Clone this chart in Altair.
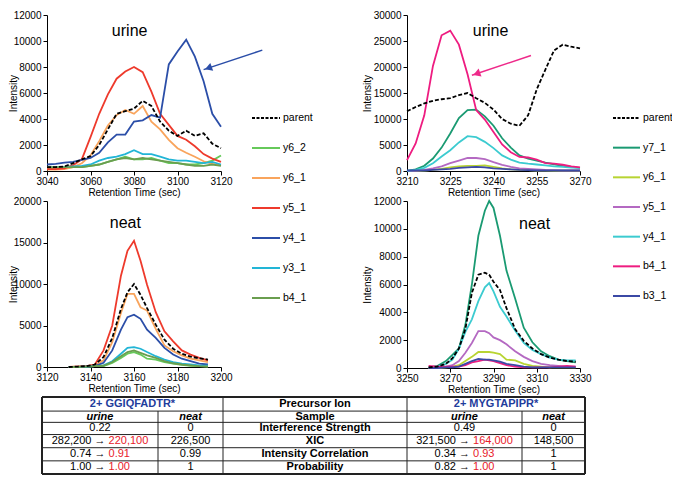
import altair as alt
import pandas as pd

# ------------------------------------------------------------------ data
GG_SERIES = ["parent", "y6_2", "y6_1", "y5_1", "y4_1", "y3_1", "b4_1"]
GG_COLORS = ["#000000", "#66c95a", "#f9a45c", "#ee3a2c", "#2b4ea8", "#22b5d6", "#6a9e4f"]
MY_SERIES = ["parent", "y7_1", "y6_1", "y5_1", "y4_1", "b4_1", "b3_1"]
MY_COLORS = ["#000000", "#1a9a72", "#b8d432", "#b469c2", "#3ccbd0", "#ee1c80", "#3b49a5"]

gg_urine_time = [3040, 3044, 3048, 3052, 3056, 3060, 3064, 3068, 3072, 3076, 3080,
                 3084, 3088, 3092, 3096, 3100, 3104, 3108, 3112, 3116, 3120]
gg_urine = {
    "parent": [300, 300, 350, 600, 900, 1150, 2000, 3200, 4400, 4600, 4800, 5400, 5000, 3800, 3100, 2700, 3100, 2700, 2900, 2100, 1750],
    "y6_2": [200, 200, 250, 300, 300, 400, 500, 700, 900, 1100, 900, 900, 1000, 800, 600, 600, 500, 500, 600, 800, 1200],
    "y6_1": [100, 100, 150, 300, 600, 1200, 2300, 3500, 4300, 4700, 4400, 5000, 3800, 3200, 2400, 1750, 1400, 1100, 750, 550, 450],
    "y5_1": [150, 150, 200, 450, 900, 2600, 4400, 5900, 7100, 7650, 8000, 7600, 6100, 4400, 3550, 2700, 2400, 1900, 1300, 950, 700],
    "y4_1": [500, 550, 650, 700, 850, 1000, 1400, 2200, 2800, 2800, 3800, 3900, 4300, 4100, 8200, 9200, 10100, 8800, 6900, 4400, 3400],
    "y3_1": [300, 300, 300, 350, 400, 500, 800, 1000, 1100, 1300, 1600, 1300, 1300, 1100, 900, 800, 800, 700, 600, 700, 500],
    "b4_1": [300, 300, 300, 300, 300, 400, 500, 700, 900, 1000, 900, 1000, 900, 800, 700, 600, 500, 400, 400, 500, 400],
}

gg_neat_time = [3130, 3134, 3138, 3142, 3146, 3150, 3154, 3157, 3160, 3163, 3166,
                3170, 3174, 3178, 3182, 3186, 3190, 3194]
gg_neat = {
    "parent": [0, 50, 100, 300, 1200, 3500, 7000, 9000, 10000, 8700, 7100, 5100, 3300, 2200, 1600, 1250, 1050, 900],
    "y6_2": [0, 0, 50, 100, 100, 500, 1100, 1600, 1800, 1500, 1000, 900, 600, 400, 250, 150, 100, 50],
    "y6_1": [0, 50, 100, 200, 800, 3000, 6500, 8800, 8800, 7200, 6800, 4600, 2600, 1900, 1400, 1000, 800, 600],
    "y5_1": [0, 50, 100, 300, 2000, 5000, 11000, 14000, 15200, 12800, 9900, 6600, 4300, 3100, 2000, 1500, 1100, 800],
    "y4_1": [0, 0, 50, 100, 500, 2000, 4500, 6000, 6300, 5800, 4500, 3500, 2300, 1500, 1000, 700, 400, 300],
    "y3_1": [0, 0, 50, 100, 200, 700, 1600, 2300, 2400, 2200, 1800, 1300, 900, 600, 400, 300, 200, 150],
    "b4_1": [0, 0, 50, 100, 150, 600, 1300, 1800, 2000, 1700, 1400, 1100, 700, 450, 300, 200, 100, 60],
}

my_urine_time = [3210, 3213, 3216, 3219, 3222, 3225, 3228, 3231, 3234, 3237, 3240,
                 3243, 3246, 3249, 3252, 3255, 3258, 3261, 3264, 3267, 3270]
my_urine = {
    "parent": [11500, 12300, 13000, 13500, 13800, 14000, 14600, 15000, 14000, 13100, 11800, 10000, 9100, 8700, 10700, 15700, 19500, 23200, 24300, 23900, 23600],
    "y7_1": [0, 300, 1000, 2400, 4500, 7200, 10200, 11700, 11800, 10500, 8700, 6300, 4500, 3000, 2400, 2000, 1600, 1300, 1000, 800, 600],
    "y6_1": [0, 0, 100, 200, 400, 700, 900, 1000, 1000, 1100, 800, 500, 300, 200, 150, 100, 100, 50, 50, 50, 50],
    "y5_1": [0, 50, 200, 500, 900, 1500, 2000, 2500, 2500, 2300, 1700, 1200, 800, 500, 400, 300, 200, 150, 100, 100, 100],
    "y4_1": [0, 200, 600, 1500, 2800, 4000, 5500, 6700, 6500, 5600, 4400, 3000, 2200, 1600, 1400, 1250, 1100, 900, 800, 650, 600],
    "b4_1": [2100, 5300, 10700, 20200, 26100, 27000, 24300, 18600, 11700, 9900, 7500, 5100, 3600, 2700, 2600, 2200, 1500, 1400, 1200, 900, 700],
    "b3_1": [100, 100, 100, 200, 300, 400, 600, 700, 800, 700, 500, 400, 300, 200, 150, 100, 100, 100, 100, 100, 100],
}

my_neat_time = [3260, 3264, 3268, 3271, 3274, 3277, 3280, 3283, 3286, 3288, 3290,
                3293, 3296, 3300, 3304, 3308, 3312, 3316, 3320, 3324, 3328]
my_neat = {
    "parent": [50, 100, 300, 700, 1400, 2800, 5400, 6700, 6850, 6700, 6200, 5600, 4300, 2800, 1950, 1400, 1000, 750, 600, 500, 450],
    "y7_1": [50, 150, 500, 950, 1400, 3100, 6000, 9500, 11300, 12000, 11500, 9500, 7000, 5000, 2900, 1850, 1200, 850, 600, 500, 400],
    "y6_1": [0, 0, 50, 100, 200, 500, 800, 1150, 1150, 1150, 1100, 1000, 600, 550, 300, 150, 100, 50, 50, 50, 50],
    "y5_1": [0, 0, 100, 200, 500, 1100, 1800, 2650, 2650, 2500, 2200, 2000, 1700, 1200, 800, 500, 300, 200, 150, 100, 100],
    "y4_1": [50, 100, 300, 600, 1400, 2600, 3500, 4800, 5800, 6100, 5500, 4400, 3700, 2700, 1800, 1300, 1000, 750, 600, 550, 550],
    "b4_1": [150, 100, 100, 100, 100, 200, 400, 500, 600, 550, 500, 350, 200, 100, 50, 50, 50, 50, 100, 150, 100],
    "b3_1": [0, 0, 50, 50, 100, 300, 500, 650, 600, 600, 550, 450, 300, 200, 100, 50, 50, 50, 50, 50, 50],
}

gg_urine_xticks = [3040, 3060, 3080, 3100, 3120]
gg_neat_xticks = [3120, 3140, 3160, 3180, 3200]
my_urine_xticks = [3210, 3225, 3240, 3255, 3270]
my_neat_xticks = [3250, 3270, 3290, 3310, 3330]
gg_urine_yticks = [0, 2000, 4000, 6000, 8000, 10000, 12000]
gg_neat_yticks = [0, 5000, 10000, 15000, 20000]
my_urine_yticks = [0, 5000, 10000, 15000, 20000, 25000, 30000]
my_neat_yticks = [0, 2000, 4000, 6000, 8000, 10000, 12000]

panel_labels = ["urine", "neat", "urine", "neat"]
label_time = [3078, 3156, 3239, 3309]
label_intensity = [10800, 17300, 26900, 10350]

arrow_tail_time = [3139, 3253]
arrow_tail_int = [9300, 22200]
arrow_tip_time = [3112, 3232.5]
arrow_tip_int = [7800, 18400]
arrow_angle = [250, 250]
arrow_colors = ["#2b4ea8", "#ee2a8a"]

table_head = ["2+ GGIQFADTR*", "Precursor Ion", "2+ MYGTAPIPR*"]
table_sub = ["urine", "neat", "Sample", "urine", "neat"]
table_metric = ["Interference Strength", "XIC", "Intensity Correlation", "Probability"]
gg_urine_vals = ["0.22", "282,200 → 220,100", "0.74 → 0.91", "1.00 → 1.00"]
gg_neat_vals = ["0", "226,500", "0.99", "1"]
my_urine_vals = ["0.49", "321,500 → 164,000", "0.34 → 0.93", "0.82 → 1.00"]
my_neat_vals = ["0", "148,500", "1", "1"]

# ------------------------------------------------------------------ layout / style
W, H = 664, 468
FONT = "Liberation Sans, Arial, Helvetica, sans-serif"
BLUE_HEAD = "#1f3d9c"
RED = "#e8202a"


def P(v):
    """reference page pixel -> plot pixel (page has an 8px margin)"""
    return v - 8


AX = dict(format="d", grid=False, tickSize=4, tickColor="black", tickWidth=1,
          domainColor="black", domainWidth=1, labelColor="black", titleColor="black",
          labelFont=FONT, titleFont=FONT, labelFontSize=10, titleFontSize=10,
          titleFontWeight="normal", labelOverlap=False)

PANELS = [
    dict(time=gg_urine_time, data=gg_urine, names=GG_SERIES, colors=GG_COLORS,
         xdom=[3040, 3120], ydom=[0, 12000], xr=[47, 221], yr=[171, 15],
         xticks=gg_urine_xticks, yticks=gg_urine_yticks, fixed_title=True, arrow=0),
    dict(time=gg_neat_time, data=gg_neat, names=GG_SERIES, colors=GG_COLORS,
         xdom=[3120, 3200], ydom=[0, 20000], xr=[47, 221], yr=[367, 201],
         xticks=gg_neat_xticks, yticks=gg_neat_yticks, fixed_title=True, arrow=None),
    dict(time=my_urine_time, data=my_urine, names=MY_SERIES, colors=MY_COLORS,
         xdom=[3210, 3270], ydom=[0, 30000], xr=[407, 580], yr=[171, 15],
         xticks=my_urine_xticks, yticks=my_urine_yticks, fixed_title=False, arrow=1),
    dict(time=my_neat_time, data=my_neat, names=MY_SERIES, colors=MY_COLORS,
         xdom=[3250, 3330], ydom=[0, 12000], xr=[407, 580], yr=[368, 201],
         xticks=my_neat_xticks, yticks=my_neat_yticks, fixed_title=False, arrow=None),
]


def make_panel(i, cfg):
    xs = alt.Scale(domain=cfg["xdom"], range=[P(cfg["xr"][0]), P(cfg["xr"][1])], nice=False, zero=False)
    ys = alt.Scale(domain=cfg["ydom"], range=[P(cfg["yr"][0]), P(cfg["yr"][1])], nice=False, zero=False)
    xaxis = alt.Axis(orient="bottom", offset=P(cfg["yr"][0]) - H, values=cfg["xticks"],
                     title="Retention Time (sec)", labelFlush=False, labelPadding=1,
                     titlePadding=1, **AX)
    extra = {}
    if cfg["fixed_title"]:
        extra = dict(titleX=10 - P(cfg["xr"][0]),
                     titleY=P((cfg["yr"][0] + cfg["yr"][1]) / 2),
                     titleAngle=270, titleBaseline="bottom", titleAlign="center")
    yaxis = alt.Axis(orient="left", offset=-P(cfg["xr"][0]), values=cfg["yticks"],
                     title="Intensity", labelPadding=2, titlePadding=1, **extra, **AX)

    def enc_x(field="t"):
        return alt.X(f"{field}:Q", scale=xs, axis=xaxis)

    def enc_y(field="v"):
        return alt.Y(f"{field}:Q", scale=ys, axis=yaxis)

    rows = []
    for name, color in zip(cfg["names"], cfg["colors"]):
        for t, v in zip(cfg["time"], cfg["data"][name]):
            rows.append(dict(series=name, t=t, v=v, color=color))
    df = pd.DataFrame(rows)

    frags = alt.Chart(df[df.series != "parent"]).mark_line(strokeWidth=1.8).encode(
        x=enc_x(), y=enc_y(),
        color=alt.Color("color:N", scale=None),
        detail="series:N",
    )
    parent = alt.Chart(df[df.series == "parent"]).mark_line(
        strokeWidth=1.8, strokeDash=[4, 2], color="black").encode(x=enc_x(), y=enc_y())
    lab_df = pd.DataFrame({"t": [label_time[i]], "v": [label_intensity[i]], "label": [panel_labels[i]]})
    label = alt.Chart(lab_df).mark_text(fontSize=16, font=FONT, color="black").encode(
        x=enc_x(), y=enc_y(), text="label:N")
    layers = [frags, parent, label]
    a = cfg["arrow"]
    if a is not None:
        adf = pd.DataFrame({"t": [arrow_tail_time[a]], "v": [arrow_tail_int[a]],
                            "t2": [arrow_tip_time[a]], "v2": [arrow_tip_int[a]]})
        shaft = alt.Chart(adf).mark_rule(strokeWidth=1.5, color=arrow_colors[a]).encode(
            x=enc_x(), y=enc_y(), x2="t2:Q", y2="v2:Q")
        f = 0.9
        hdf = pd.DataFrame({
            "t": [arrow_tail_time[a] + f * (arrow_tip_time[a] - arrow_tail_time[a])],
            "v": [arrow_tail_int[a] + f * (arrow_tip_int[a] - arrow_tail_int[a])]})
        head = alt.Chart(hdf).mark_point(shape="triangle", filled=True, size=70, opacity=1,
                                         angle=arrow_angle[a], color=arrow_colors[a]).encode(
            x=enc_x(), y=enc_y())
        layers += [shaft, head]
    return alt.layer(*layers)


def make_legend(names, colors, xr, yr):
    xs = alt.Scale(domain=[0, 1], range=[P(xr[0]), P(xr[1])], nice=False, zero=False)
    ys = alt.Scale(domain=[0, len(names) - 1], range=[P(yr[0]), P(yr[1])], nice=False, zero=False)
    df = pd.DataFrame({"name": names, "idx": list(range(len(names))), "x0": 0, "x1": 1, "color": colors})
    solid = alt.Chart(df[df.name != "parent"]).mark_rule(strokeWidth=2).encode(
        x=alt.X("x0:Q", scale=xs, axis=None), x2="x1:Q",
        y=alt.Y("idx:Q", scale=ys, axis=None), color=alt.Color("color:N", scale=None))
    dashed = alt.Chart(df[df.name == "parent"]).mark_rule(
        strokeWidth=2, strokeDash=[3, 1.5], color="black").encode(
        x=alt.X("x0:Q", scale=xs, axis=None), x2="x1:Q",
        y=alt.Y("idx:Q", scale=ys, axis=None))
    text = alt.Chart(df).mark_text(align="left", baseline="middle", dx=3, fontSize=10.5,
                                   font=FONT, color="black").encode(
        x=alt.X("x1:Q", scale=xs, axis=None), y=alt.Y("idx:Q", scale=ys, axis=None),
        text="name:N")
    return alt.layer(solid, dashed, text)


# ---------------- table
col_w = [116, 65, 184, 115, 63]
row_h = [15, 12, 13, 14, 14, 14]
col_e = [0]
for w in col_w:
    col_e.append(col_e[-1] + w)
row_e = [0]
for h in row_h:
    row_e.append(row_e[-1] + h)
T_X = [42, 585]
T_Y = [397, 474]
TFS = 11


def text_w(s, size=TFS):
    w = 0.0
    for ch in s:
        if ch.isdigit():
            w += 0.556
        elif ch in ",. ":
            w += 0.278
        elif ch == "→":
            w += 1.0
        else:
            w += 0.556
    return w * size


def make_table():
    txs = alt.Scale(domain=[0, col_e[-1]], range=[P(T_X[0]), P(T_X[1])], nice=False, zero=False)
    tys = alt.Scale(domain=[0, row_e[-1]], range=[P(T_Y[0]), P(T_Y[1])], nice=False, zero=False)
    kx = (T_X[1] - T_X[0]) / col_e[-1]

    hl = pd.DataFrame([dict(x=0, x2=col_e[-1], y=row_e[r], w=2 if r in (0, len(row_e) - 1) else 1)
                       for r in range(len(row_e))])
    vl_rows = []
    for j, x in enumerate(col_e):
        y0 = row_e[1] if j in (1, 4) else 0
        vl_rows.append(dict(x=x, y=y0, y2=row_e[-1], w=2 if j in (0, len(col_e) - 1) else 1))
    vl = pd.DataFrame(vl_rows)
    hrules = alt.Chart(hl).mark_rule(color="#222222").encode(
        x=alt.X("x:Q", scale=txs, axis=None), x2="x2:Q",
        y=alt.Y("y:Q", scale=tys, axis=None), strokeWidth=alt.StrokeWidth("w:Q", scale=None))
    vrules = alt.Chart(vl).mark_rule(color="#222222").encode(
        x=alt.X("x:Q", scale=txs, axis=None),
        y=alt.Y("y:Q", scale=tys, axis=None), y2="y2:Q",
        strokeWidth=alt.StrokeWidth("w:Q", scale=None))

    def cc(j0, j1=None):
        j1 = j0 + 1 if j1 is None else j1
        return (col_e[j0] + col_e[j1]) / 2

    def rc(r):
        return (row_e[r] + row_e[r + 1]) / 2

    cells = {"head": [], "bold": [], "bi": [], "norm": [], "right": [], "red": []}
    cells["head"].append(dict(x=cc(0, 2), y=rc(0), s=table_head[0]))
    cells["bold"].append(dict(x=cc(2), y=rc(0), s=table_head[1]))
    cells["head"].append(dict(x=cc(3, 5), y=rc(0), s=table_head[2]))
    for j, s in enumerate(table_sub):
        cells["bold" if j == 2 else "bi"].append(dict(x=cc(j), y=rc(1), s=s))
    cols = {0: gg_urine_vals, 1: gg_neat_vals, 3: my_urine_vals, 4: my_neat_vals}
    for r, m in enumerate(table_metric):
        cells["bold"].append(dict(x=cc(2), y=rc(r + 2), s=m))
        for j, vals in cols.items():
            s = vals[r]
            if " → " in s:
                left, right = s.split(" → ")
                left = left + " →"
                full = text_w(left) + text_w(" ") + text_w(right)
                start = cc(j) - full / 2 / kx
                cells["right"].append(dict(x=start + text_w(left) / kx, y=rc(r + 2), s=left))
                cells["red"].append(dict(x=start + (text_w(left) + text_w(" ")) / kx, y=rc(r + 2), s=right))
            else:
                cells["norm"].append(dict(x=cc(j), y=rc(r + 2), s=s))

    styles = {
        "head": dict(align="center", fontWeight="bold", color=BLUE_HEAD),
        "bold": dict(align="center", fontWeight="bold", color="black"),
        "bi": dict(align="center", fontWeight="bold", fontStyle="italic", color="black"),
        "norm": dict(align="center", color="black"),
        "right": dict(align="right", color="black"),
        "red": dict(align="left", color=RED),
    }
    layers = [hrules, vrules]
    for k, rows in cells.items():
        layers.append(alt.Chart(pd.DataFrame(rows)).mark_text(
            baseline="middle", fontSize=TFS, font=FONT, **styles[k]).encode(
            x=alt.X("x:Q", scale=txs, axis=None), y=alt.Y("y:Q", scale=tys, axis=None),
            text="s:N"))
    return alt.layer(*layers)


panels = [make_panel(i, c) for i, c in enumerate(PANELS)]
legend_l = make_legend(GG_SERIES, GG_COLORS, [252, 280], [118, 298])
legend_r = make_legend(MY_SERIES, MY_COLORS, [613, 640], [118, 296])
table = make_table()

chart = alt.layer(*panels, legend_l, legend_r, table).resolve_scale(
    x="independent", y="independent"
).properties(
    width=W, height=H, padding=0,
    autosize=alt.AutoSizeParams(type="none"),
    background="white",
).configure_view(stroke=None)

chart.save("out.html", embed_options={"renderer": "svg", "actions": False})
